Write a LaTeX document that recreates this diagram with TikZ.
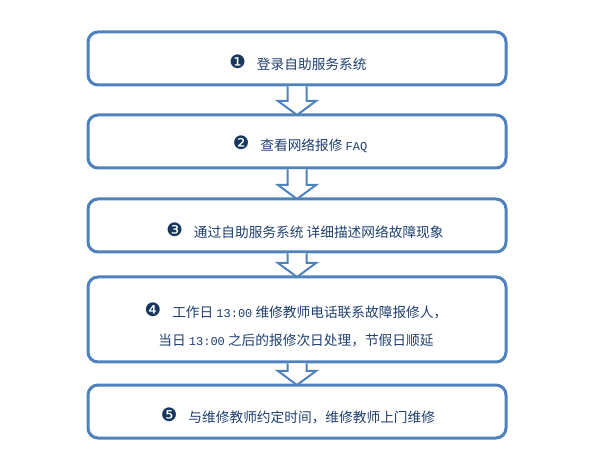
\documentclass[tikz,border=0pt]{standalone}
\usepackage{fontspec}
\newfontfamily\cjk{Noto Sans CJK SC}
\newfontfamily\dingfont{DejaVu Sans}
\newfontfamily\halfmono{Liberation Mono}
\usetikzlibrary{calc}
\definecolor{boxblue}{HTML}{4F81BD}
\definecolor{textnavy}{HTML}{1F3F70}
\definecolor{dotnavy}{HTML}{17375E}
\newcommand\stepno[1]{{\dingfont\fontsize{18.5}{18.5}\selectfont\color{dotnavy}\raisebox{1pt}{#1}}\hspace{11pt}}
\newcommand\hw[1]{{\halfmono\fontsize{12}{12}\selectfont #1}}
% hollow block arrow from the bottom of one box to the top of the next
\newcommand\blockdown[2]{%
  \draw[blockarrow] ($(#1.south)+(-9.5,1.5)$) -- ($(#2.north)+(-9.5,-14)$)
    -- ($(#2.north)+(-19,-14)$) -- (#2.north) -- ($(#2.north)+(19,-14)$)
    -- ($(#2.north)+(9.5,-14)$) -- ($(#1.south)+(9.5,1.5)$);}
\begin{document}
\begin{tikzpicture}[x=1pt,y=-1pt,
  stepbox/.style={draw=boxblue,line width=3pt,rounded corners=10pt,
    minimum width=418pt,outer sep=0pt,inner sep=0pt},
  steptext/.style={text=textnavy,align=center,
    font={\cjk\fontsize{13.7}{28}\selectfont}},
  blockarrow/.style={draw=boxblue,fill=white,line width=2pt,line join=miter}]
\useasboundingbox (0,0) rectangle (595,465);

% BOXES
\node[stepbox,minimum height=53pt] (b1) at (297,58.5) {};
\node[stepbox,minimum height=53pt] (b2) at (297,141.5) {};
\node[stepbox,minimum height=53pt] (b3) at (297,225.5) {};
\node[stepbox,minimum height=85pt] (b4) at (297,319.5) {};
\node[stepbox,minimum height=53pt] (b5) at (297,411.5) {};

% TEXTS
\node[steptext] (t1) at (298,63) {\stepno{❶}登录自助服务系统};
\node[steptext] (t2) at (300,144) {\stepno{❷}查看网络报修 \hw{FAQ}};
\node[steptext] (t3) at (305,231) {\stepno{❸}通过自助服务系统 详细描述网络故障现象};
\node[steptext] (t4) at (296,325) {\stepno{❹}工作日 \hw{13:00} 维修教师电话联系故障报修人，\\
  当日 \hw{13:00} 之后的报修次日处理，节假日顺延};
\node[steptext] (t5) at (298,416) {\stepno{❺}与维修教师约定时间，维修教师上门维修};

% ARROWS
\blockdown{b1}{b2}
\blockdown{b2}{b3}
\blockdown{b3}{b4}
\blockdown{b4}{b5}

\end{tikzpicture}
\end{document}
